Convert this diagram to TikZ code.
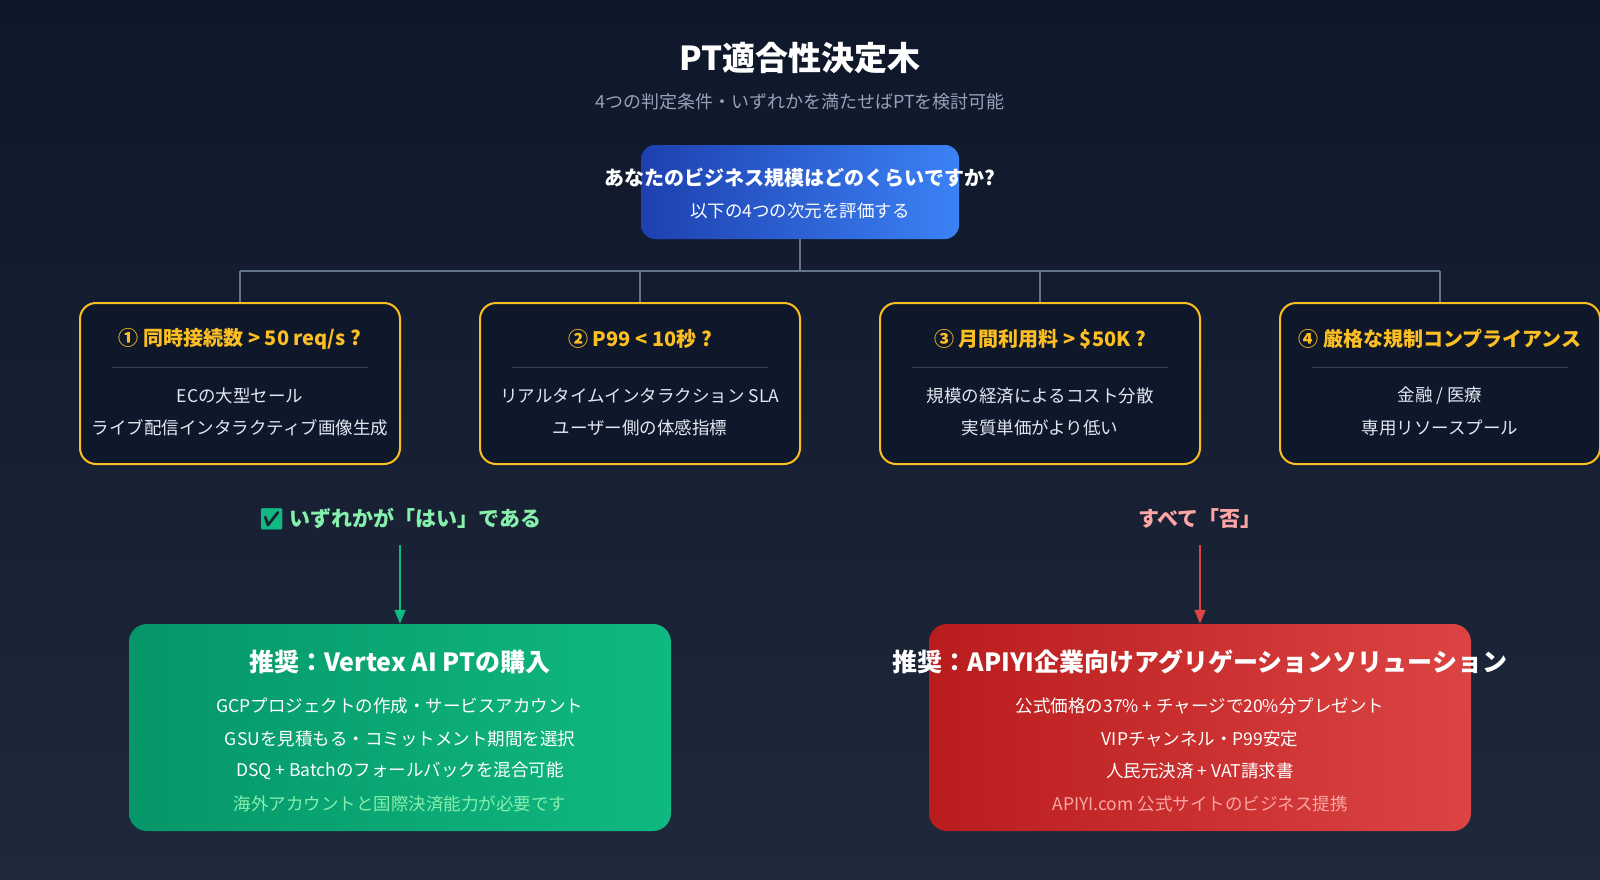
\documentclass[tikz,border=0pt]{standalone}
\usepackage{fontspec}
\setmainfont{Noto Sans CJK JP}
\newfontfamily\emo{Noto Emoji}
\usetikzlibrary{arrows.meta}
\definecolor{bgA}{HTML}{0F172A}
\definecolor{bgB}{HTML}{1E293B}
\definecolor{amber}{HTML}{FBBF24}
\definecolor{qfill}{HTML}{0F172A}
\definecolor{sep}{HTML}{334155}
\definecolor{conn}{HTML}{64748B}
\definecolor{subg}{HTML}{94A3B8}
\definecolor{lgreen}{HTML}{86EFAC}
\definecolor{pink}{HTML}{FCA5A5}
\definecolor{gA}{HTML}{059669}
\definecolor{gB}{HTML}{10B981}
\definecolor{rA}{HTML}{B91C1C}
\definecolor{rB}{HTML}{DC4444}
\definecolor{bA}{HTML}{1E40AF}
\definecolor{bB}{HTML}{3B82F6}
\definecolor{txt}{HTML}{E2E8F0}
\newcommand{\fs}[1]{\fontsize{#1}{#1}\selectfont}
\tikzset{
 qbox/.style={draw=amber,line width=2pt,fill=qfill,rounded corners=16pt,minimum width=320pt,minimum height=161pt,inner sep=0pt},
 qtitle/.style={text=amber,font=\fs{20}\bfseries},
 qline/.style={text=txt,font=\fs{17.5}},
 sepline/.style={draw=sep,line width=1pt},
 conline/.style={draw=conn,line width=1.8pt},
 rline/.style={text=white,font=\fs{17.5}},
 rtitle/.style={text=white,font=\fs{25}\bfseries},
}
\begin{document}
\begin{tikzpicture}[x=1pt,y=-1pt]
\shade[top color=bgA,bottom color=bgB] (0,0) rectangle (1600,880);
\useasboundingbox (0,0) rectangle (1600,880);
\node[text=white,font=\fs{33}\bfseries] (title) at (800,58) {PT適合性決定木};
\node[text=subg,font=\fs{18}] (sub) at (800,102) {4つの判定条件・いずれかを満たせばPTを検討可能};
\shade[left color=bA,right color=bB,rounded corners=14pt] (641,145) rectangle (959,239);
\node[minimum width=318pt,minimum height=94pt] (top) at (800,192) {};
\node[text=white,font=\fs{20}\bfseries] (topt) at (800,178) {あなたのビジネス規模はどのくらいですか?};
\node[text=white,font=\fs{17.5}] (tops) at (800,211) {以下の4つの次元を評価する};
\coordinate (hub) at (800,271);
\foreach \i/\x in {1/240,2/640,3/1040,4/1440}{
  \node[qbox] (q\i) at (\x,383.5) {};
  \coordinate (c\i) at (\x,271);
  \draw[sepline] (\x-128,367) -- (\x+128,367);
}
\draw[conline] (top.south) -- (hub);
\draw[conline] (c1) -- (c4);
\foreach \i in {1,...,4}{\draw[conline] (c\i) -- (q\i.north);}
\node[qtitle] (t1) at (240,339) {① 同時接続数 > 50 req/s ?};
\node[qline] (l11) at (240,396) {ECの大型セール};
\node[qline] (l12) at (240,428) {ライブ配信インタラクティブ画像生成};
\node[qtitle] (t2) at (640,339) {② P99 < 10秒 ?};
\node[qline] (l21) at (640,396) {リアルタイムインタラクション SLA};
\node[qline] (l22) at (640,428) {ユーザー側の体感指標};
\node[qtitle] (t3) at (1040,339) {③ 月間利用料 > \$50K ?};
\node[qline] (l31) at (1040,396) {規模の経済によるコスト分散};
\node[qline] (l32) at (1040,428) {実質単価がより低い};
\node[qtitle] (t4) at (1440,339) {④ 厳格な規制コンプライアンス};
\node[qline] (l41) at (1440,396) {金融 / 医療};
\node[qline] (l42) at (1440,428) {専用リソースプール};
\node[text=lgreen,font=\fs{21}\bfseries] (yes) at (400,519) {{\emo\color{gB}✅}\ いずれかが「はい」である};
\node[text=pink,font=\fs{21}\bfseries] (no) at (1200,519) {すべて「否」};
\coordinate (ya) at (400,545);
\coordinate (na) at (1200,545);
\shade[left color=gA,right color=gB,rounded corners=18pt] (129,624) rectangle (671,831);
\node[minimum width=542pt,minimum height=207pt] (yb) at (400,727.5) {};
\shade[left color=rA,right color=rB,rounded corners=18pt] (929,624) rectangle (1471,831);
\node[minimum width=542pt,minimum height=207pt] (nb) at (1200,727.5) {};
\draw[draw=gB,line width=2pt,-{Triangle[length=14pt,width=11pt]}] (ya) -- (yb.north);
\draw[draw=rB,line width=2pt,-{Triangle[length=14pt,width=11pt]}] (na) -- (nb.north);
\node[rtitle] (yt) at (400,662) {推奨：Vertex AI PTの購入};
\node[rline] (y1) at (400,706) {GCPプロジェクトの作成・サービスアカウント};
\node[rline] (y2) at (400,739) {GSUを見積もる・コミットメント期間を選択};
\node[rline] (y3) at (400,771) {DSQ + Batchのフォールバックを混合可能};
\node[rline,text=lgreen] (y4) at (400,804) {海外アカウントと国際決済能力が必要です};
\node[rtitle] (nt) at (1200,662) {推奨：APIYI企業向けアグリゲーションソリューション};
\node[rline] (n1) at (1200,706) {公式価格の37\% + チャージで20\%分プレゼント};
\node[rline] (n2) at (1200,739) {VIPチャンネル・P99安定};
\node[rline] (n3) at (1200,771) {人民元決済 + VAT請求書};
\node[rline,text=pink] (n4) at (1200,804) {APIYI.com 公式サイトのビジネス提携};
\end{tikzpicture}
\end{document}
